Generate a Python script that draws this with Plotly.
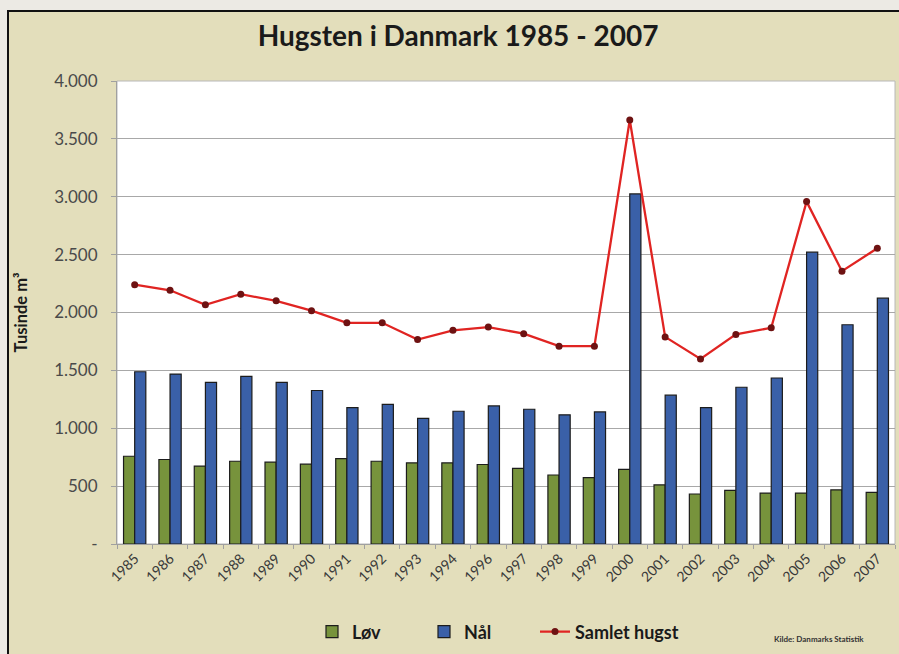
import plotly.graph_objects as go

years = ["1985", "1986", "1987", "1988", "1989", "1990", "1991", "1992", "1993", "1994",
         "1996", "1997", "1998", "1999", "2000", "2001", "2002", "2003", "2004", "2005",
         "2006", "2007"]
lov = [758, 730, 673, 715, 707, 690, 738, 715, 701, 701,
       687, 653, 596, 573, 645, 511, 432, 463, 440, 440, 468, 446]
naal = [1488, 1468, 1397, 1448, 1397, 1326, 1178, 1207, 1085, 1147,
        1193, 1164, 1116, 1141, 3024, 1286, 1178, 1354, 1434, 2521, 1894, 2124]
samlet = [2240, 2192, 2067, 2158, 2101, 2016, 1911, 1911, 1766, 1846,
          1874, 1817, 1709, 1709, 3663, 1789, 1599, 1811, 1868, 2958, 2357, 2555]
y_tickvals = [0, 500, 1000, 1500, 2000, 2500, 3000, 3500, 4000]
y_ticktext = ["-", "500", "1.000", "1.500", "2.000", "2.500", "3.000", "3.500", "4.000"]

W, H = 899, 654
L, R, T, B = 117, 895, 81, 550
pw, ph = R - L, B - T


def px(x):
    return (x - L) / pw


def py(y):
    return (B - y) / ph


font = "Lato, 'Open Sans', 'DejaVu Sans', sans-serif"
leg_font = dict(size=18, color="#1a1a1a", family=font)
leg_y = py(639)

fig = go.Figure()
fig.add_trace(go.Bar(x=years, y=lov, name="<b>Løv</b>", legend="legend",
                     marker=dict(color="#77933C", line=dict(color="#1c1c1c", width=1.2))))
fig.add_trace(go.Bar(x=years, y=naal, name="<b>Nål</b>", legend="legend2",
                     marker=dict(color="#3A60A8", line=dict(color="#1c1c1c", width=1.2))))
fig.add_trace(go.Scatter(x=years, y=samlet, name="<b>Samlet hugst</b>", legend="legend3",
                         mode="lines+markers",
                         line=dict(color="#E02422", width=2.3),
                         marker=dict(color="#6E1212", size=7)))

shapes = [
    dict(type="rect", xref="paper", yref="paper", x0=px(8), x1=px(915), y0=py(670), y1=py(10),
         fillcolor="#E3DEBB", line=dict(color="#111111", width=2), layer="below"),
    dict(type="rect", xref="paper", yref="paper", x0=0, x1=1, y0=0, y1=1,
         fillcolor="#FFFFFF", line=dict(color="#B8B8B8", width=1), layer="below"),
]


def leg(xpix):
    return dict(orientation="h", x=px(xpix), xanchor="left", y=leg_y, yanchor="middle",
                font=leg_font, bgcolor="rgba(0,0,0,0)")


fig.update_layout(
    width=W, height=H,
    margin=dict(l=L, r=W - R, t=T, b=H - B),
    paper_bgcolor="#ECEAE4",
    plot_bgcolor="rgba(0,0,0,0)",
    shapes=shapes,
    barmode="group", bargap=0.37, bargroupgap=0,
    font=dict(family=font, color="#333333"),
    title=dict(text="<b>Hugsten i Danmark 1985 - 2007</b>", xref="container", x=458 / W,
               xanchor="center", yref="container", y=1 - 36 / H, yanchor="middle",
               font=dict(size=28, color="#1a1a1a", family=font)),
    showlegend=True,
    legend=leg(312),
    legend2=leg(424),
    legend3=leg(535),
    xaxis=dict(type="category", range=[-0.5, len(years) - 0.5], automargin=False,
               tickangle=-45, tickfont=dict(size=14, color="#383838"),
               ticks="outside", tickson="boundaries", ticklen=4, tickcolor="#A0A0A0",
               showline=True, linecolor="#A0A0A0", showgrid=False),
    yaxis=dict(range=[0, 4000], automargin=False, tickvals=y_tickvals, ticktext=y_ticktext,
               tickfont=dict(size=17, color="#4a4a4a"), ticks="outside", ticklen=5,
               ticklabelstandoff=10,
               tickcolor="#A0A0A0", showline=True, linecolor="#A0A0A0",
               showgrid=True, gridcolor="#A8A8A8", gridwidth=1, zeroline=False,
               title=dict(text="<b>Tusinde m³</b>", font=dict(size=16.5, color="#1a1a1a"),
                          standoff=22)),
    annotations=[
        dict(text="<b>Kilde: Danmarks Statistik</b>", xref="paper", yref="paper",
             x=px(772), y=py(646), xanchor="left", yanchor="middle", showarrow=False,
             font=dict(size=8, color="#333333")),
    ],
)

fig.write_html("out.html", config={"displayModeBar": False},
               post_script="document.body.style.margin='0';")
